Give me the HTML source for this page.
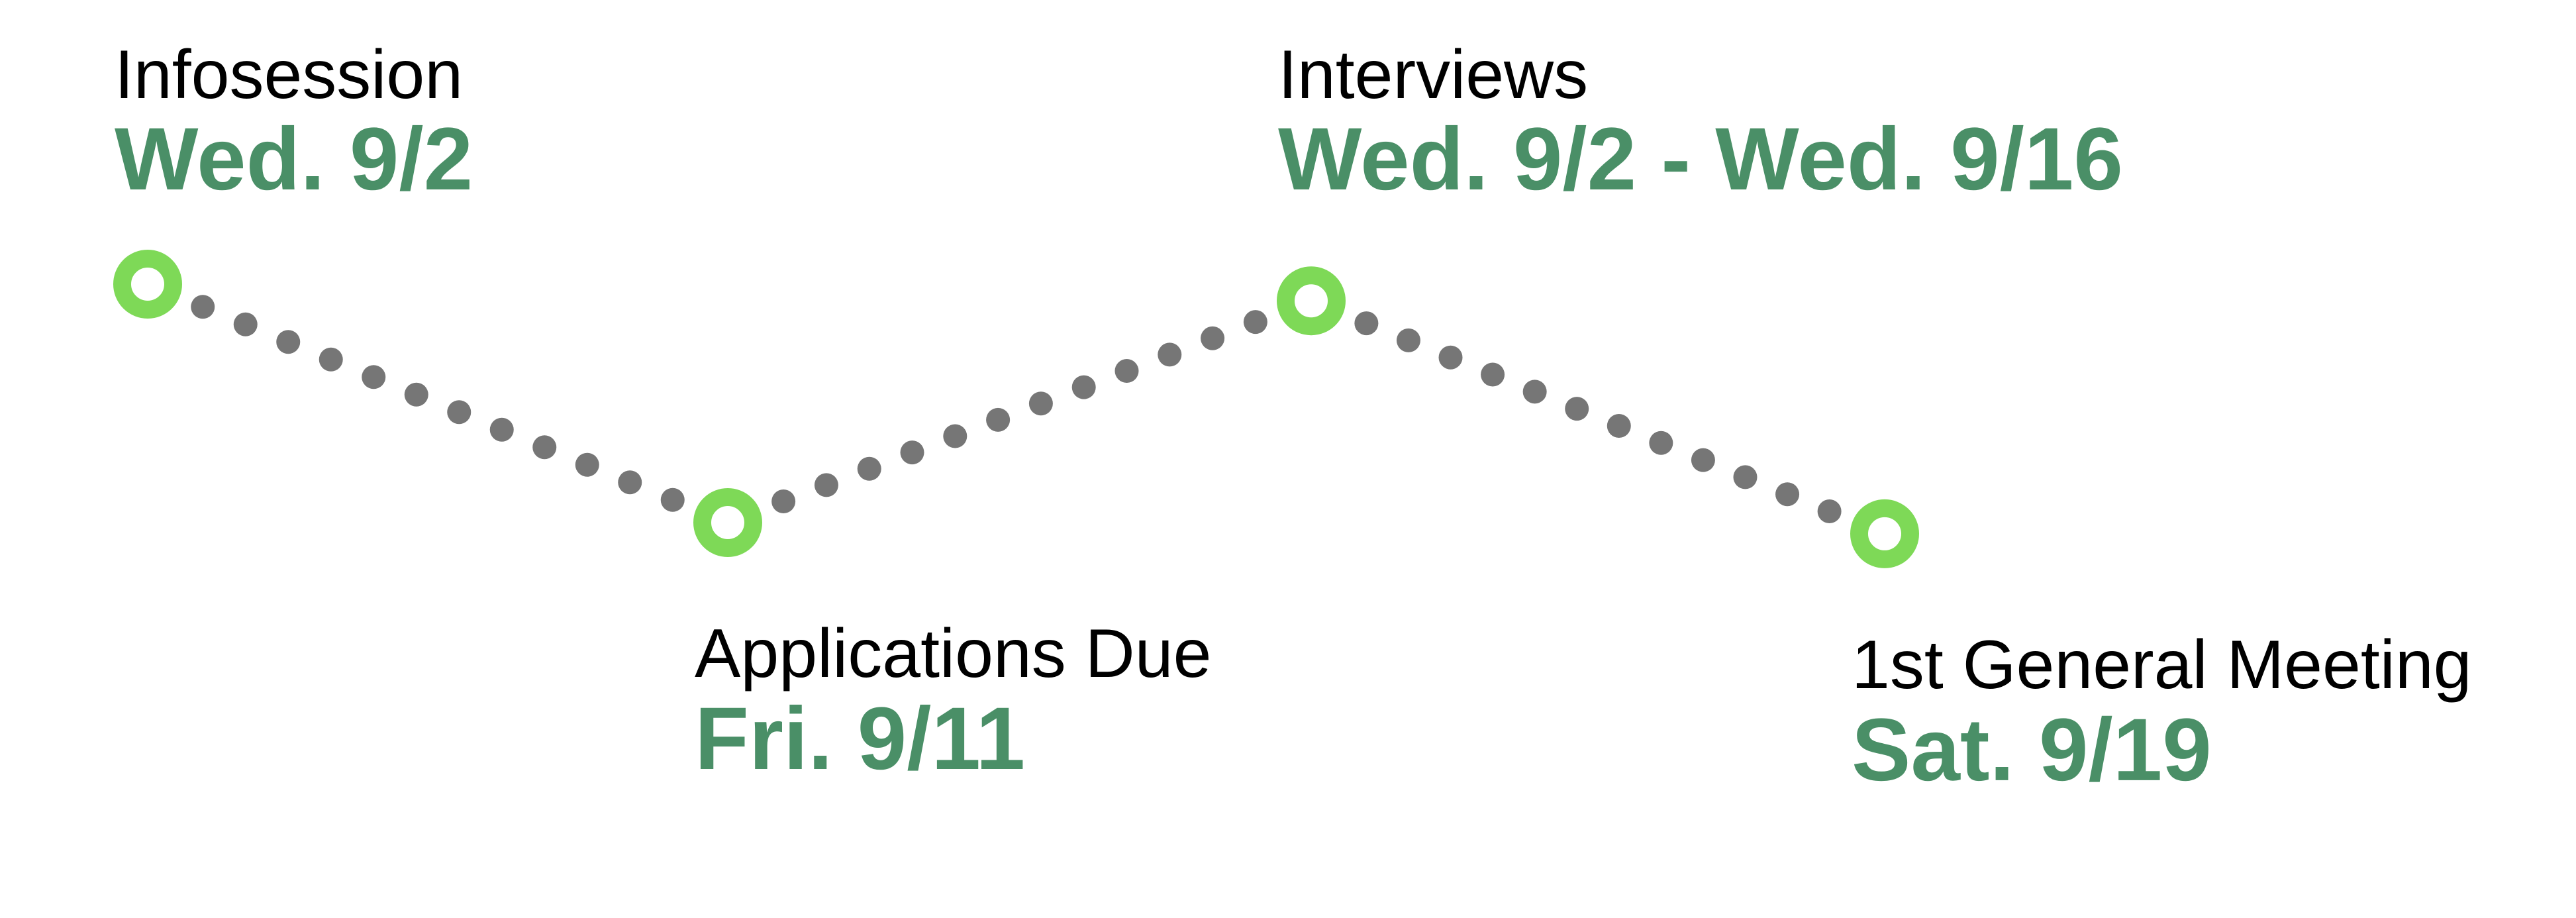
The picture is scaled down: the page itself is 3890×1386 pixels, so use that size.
<!DOCTYPE html>
<html><head><meta charset="utf-8"><style>
html,body{margin:0;padding:0;background:#fff;}
svg{display:block;}
</style></head><body>
<svg id="chart" width="3890" height="1386" viewBox="0 0 3890 1386" xmlns="http://www.w3.org/2000/svg"></svg>
<script>
const titles = ["Infosession", "Applications Due", "Interviews", "1st General Meeting"];
const dates = ["Wed. 9/2", "Fri. 9/11", "Wed. 9/2 - Wed. 9/16", "Sat. 9/19"];
const levels = [1.0, 0.0, 0.93, -0.047];
const slugs = ["infosession", "applications-due", "interviews", "general-meeting"];
const xPos = [223, 1099, 1980, 2846];

const NS = "http://www.w3.org/2000/svg";
const svg = document.getElementById("chart");
function yScale(v){ return 789 - v * 360; }
function mk(tag, attrs){ const e = document.createElementNS(NS, tag); for (const k in attrs) e.setAttribute(k, attrs[k]); svg.appendChild(e); return e; }

for (let i = 0; i < titles.length - 1; i++) {
  const x1 = xPos[i], y1 = yScale(levels[i]), x2 = xPos[i+1], y2 = yScale(levels[i+1]);
  const len = Math.hypot(x2-x1, y2-y1);
  const start = 90, step = 68;
  const n = Math.floor((len - 2*start) / step);
  const realStep = (len - 2*start) / n;
  for (let k = 0; k <= n; k++) {
    const t = (start + k*realStep) / len;
    const d = mk("circle", {cx: x1 + (x2-x1)*t, cy: y1 + (y2-y1)*t, r: 18, fill: "#767676"});
    
    
  }
}

for (let i = 0; i < titles.length; i++) {
  const cx = xPos[i], cy = yScale(levels[i]);
  const m = mk("circle", {cx: cx, cy: cy, r: 38.5, fill: "none", stroke: "#7ed957", "stroke-width": 27});
  
  
  const high = levels[i] > 0.5;
  const tx = cx - 50;
  const by1 = high ? 148 : cy + 233;
  const by2 = high ? 286 : cy + 372;
  const t = mk("text", {x: tx, y: by1, "font-family": "Liberation Sans, sans-serif", "font-size": 104, fill: "#000"});
  t.textContent = titles[i];
  
  
  const d = mk("text", {x: tx, y: by2, "font-family": "Liberation Sans, sans-serif", "font-size": 134, "font-weight": "bold", fill: "#4a8f67"});
  d.textContent = dates[i];
  
  
}
</script>
</body></html>
